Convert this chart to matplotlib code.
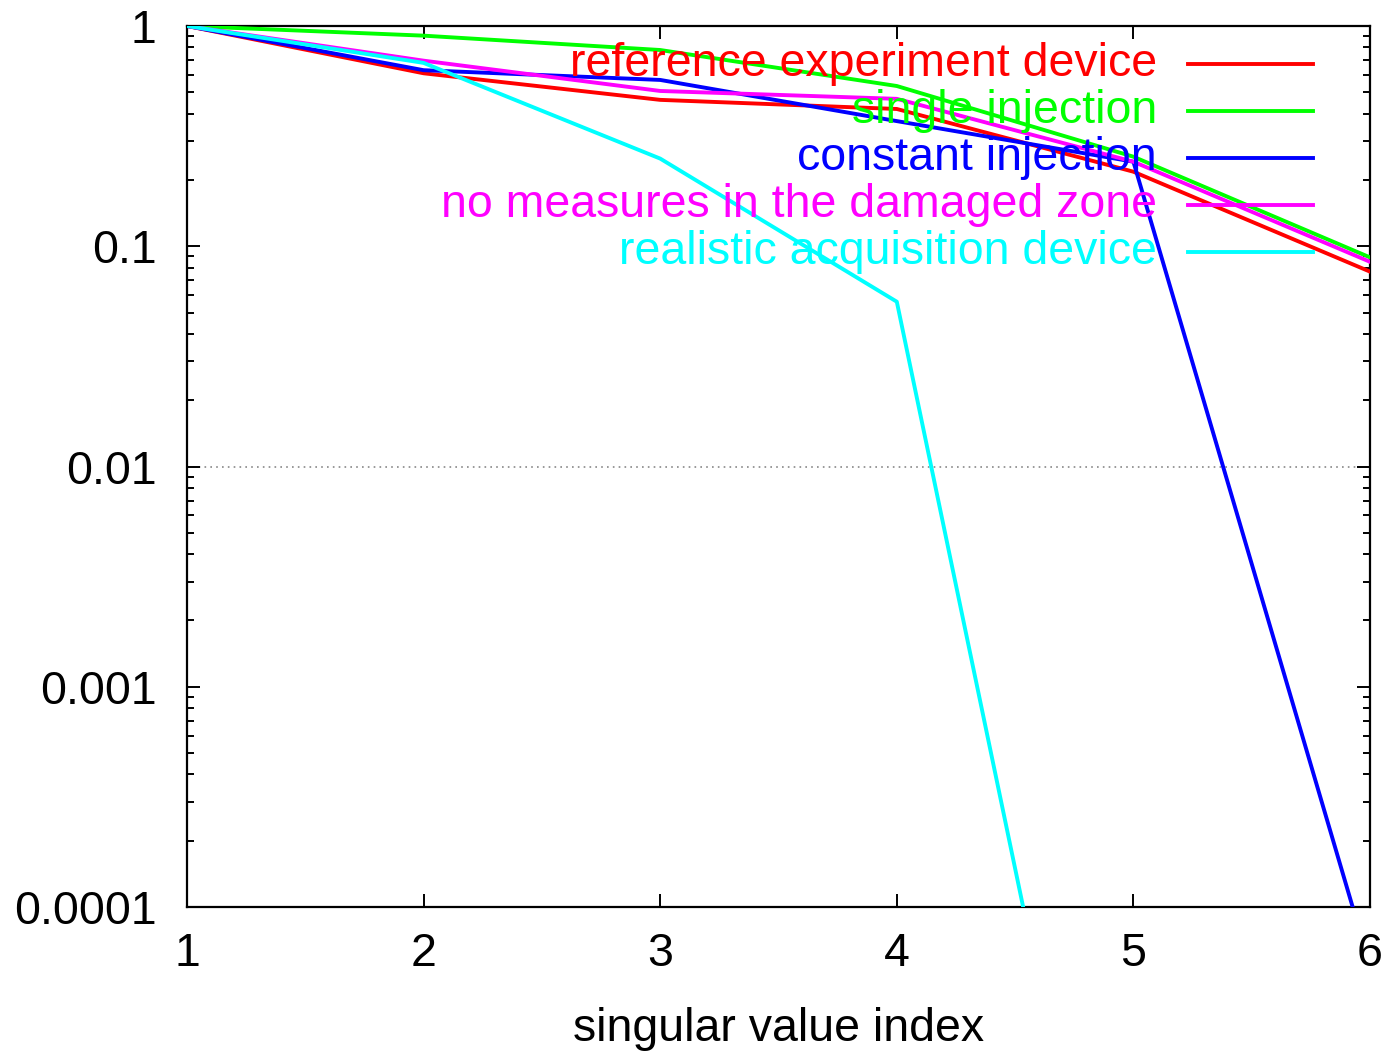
import numpy as np
import matplotlib.pyplot as plt
from matplotlib.ticker import LogLocator, FixedLocator, NullFormatter

plt.rcParams['font.family'] = ['Liberation Sans', 'DejaVu Sans']

# indice des valeurs singulieres
idx = [1, 2, 3, 4, 5, 6]

# valeurs singulieres normalisees pour chaque configuration
ref_device = [1.0, 0.61, 0.462, 0.42, 0.218, 0.0767]
single_inj = [1.0, 0.904, 0.778, 0.534, 0.255, 0.089]
const_inj = [1.0, 0.63, 0.569, 0.37, 0.242, 5.4e-5]
no_damaged = [1.0, 0.696, 0.507, 0.467, 0.242, 0.085]
realistic = [1.0, 0.68, 0.25, 0.056, 4e-7, 1e-8]

labels = ['reference experiment device', 'single injection',
          'constant injection', 'no measures in the damaged zone',
          'realistic acquisition device']
colors = ['#ff0000', '#00ff00', '#0000ff', '#ff00ff', '#00ffff']
series = [ref_device, single_inj, const_inj, no_damaged, realistic]

fs = 33.5

fig = plt.figure(figsize=(13.95, 10.51), dpi=100)
ax = fig.add_axes([187 / 1395, 144 / 1051, 1183 / 1395, 881 / 1051])

ax.axhline(0.01, color='#888888', lw=1.2, ls=(0, (1, 2.5)), zorder=1)

for y, c in zip(series, colors):
    ax.plot(idx, y, color=c, lw=2.8, zorder=3)

ax.set_yscale('log')
ax.set_xlim(1, 6)
ax.set_ylim(1e-4, 1)

ax.xaxis.set_major_locator(FixedLocator(idx))
ax.set_xticklabels([str(i) for i in idx])
yt = [1e-4, 1e-3, 1e-2, 1e-1, 1]
ax.yaxis.set_major_locator(FixedLocator(yt))
ax.set_yticklabels(['0.0001', '0.001', '0.01', '0.1', '1'])
ax.yaxis.set_minor_locator(LogLocator(base=10, subs=np.arange(2, 10), numticks=20))
ax.yaxis.set_minor_formatter(NullFormatter())

ax.tick_params(which='both', direction='in', top=True, right=True,
               labelsize=fs, width=1.4, colors='black')
ax.tick_params(which='major', length=9.5)
ax.tick_params(which='minor', length=5)
ax.tick_params(axis='y', pad=22)
ax.tick_params(axis='x', pad=18)
for s in ax.spines.values():
    s.set_linewidth(1.6)

ax.set_xlabel('singular value index', fontsize=fs, labelpad=22)

# legende a droite, texte aligne a droite
for i, (lab, c) in enumerate(zip(labels, colors)):
    yy = (907 - 64 - 47 * i) / 881
    ax.text(0.820, yy, lab, color=c, fontsize=fs, ha='right', va='center',
            transform=ax.transAxes, zorder=4)
    ax.plot([0.846, 0.952], [yy, yy], color=c, lw=2.8,
            transform=ax.transAxes, zorder=4)

fig.savefig('out.png', dpi=100)
